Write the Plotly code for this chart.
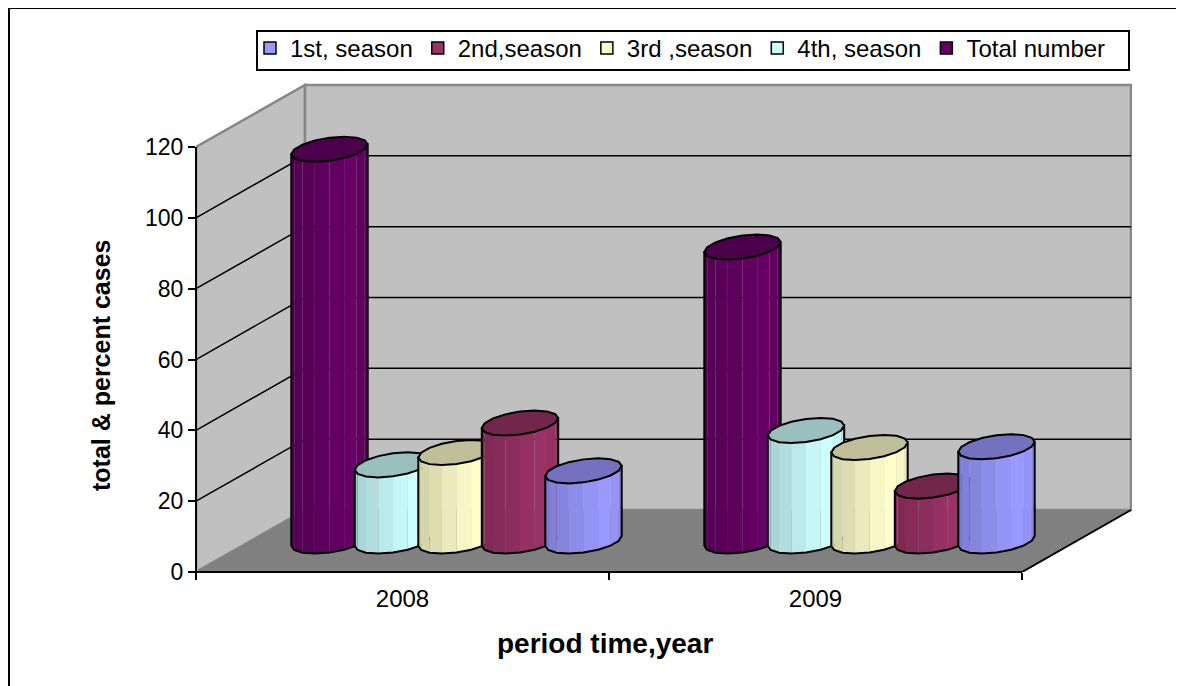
import math
import plotly.graph_objects as go

years = ["2008", "2009"]
series_names = ["1st, season", "2nd,season", "3rd ,season", "4th, season", "Total number"]
first_season = [19.8, 26.6]
second_season = [33.3, 15.5]
third_season = [25.0, 26.4]
fourth_season = [21.5, 31.2]
total_number = [110.6, 83.0]
colors = ["#9999FF", "#993366", "#FFFFCC", "#CCFFFF", "#660066"]
y_ticks = [0, 20, 40, 60, 80, 100, 120]

values = [first_season, second_season, third_season, fourth_season, total_number]

FIG_W, FIG_H, PAGE = 1176, 678, 8   # the page has an 8px body margin
PX_X = 413.0        # pixels per category
PX_Y = 425 / 120.0  # pixels per unit
DX = 109 / PX_X     # depth vector, axis units
DY = 62 / PX_Y
X0, X1 = -0.5, 1.5
BASE = DY / 2
A, C, D = 38.2 / PX_X, 5 / PX_Y, 11.5 / PX_Y
OFFS = {4: -73 / PX_X, 3: -9.5 / PX_X, 2: 54 / PX_X, 1: 117.5 / PX_X, 0: 181 / PX_X}
SHADE = [0.80, 0.84, 0.87, 0.92, 0.97, 1.0, 0.97, 0.90]


def fx(px):
    return (px - PAGE) / FIG_W


def fy(py):
    return 1 - (py - PAGE) / FIG_H


def shade(hex_c, f):
    r, g, b = int(hex_c[1:3], 16), int(hex_c[3:5], 16), int(hex_c[5:7], 16)
    return "rgb(%d,%d,%d)" % (r * f, g * f, b * f)


fig = go.Figure()

# legend-carrying bars, real values on the axes
for s, name in enumerate(series_names):
    fig.add_trace(go.Bar(
        x=[i + OFFS[s] for i in range(2)], y=values[s], base=[BASE, BASE], width=0.09,
        name=name, marker=dict(color=colors[s], line=dict(color="black", width=1.5)),
        hoverinfo="y",
    ))


def poly(xs, ys, fill=None, line=None, width=1.5):
    fig.add_trace(go.Scatter(
        x=xs, y=ys, mode="lines", showlegend=False, hoverinfo="skip",
        fill="toself" if fill else None, fillcolor=fill,
        line=dict(color=line or "rgba(0,0,0,0)", width=width if line else 0),
    ))


# walls and floor
poly([X0, X0 + DX, X0 + DX, X0, X0], [0, DY, 120 + DY, 120, 0], "#C0C0C0", "#868686", 2.5)
poly([X0 + DX, X1 + DX, X1 + DX, X0 + DX, X0 + DX], [DY, DY, 120 + DY, 120 + DY, DY], "#C0C0C0", "#868686", 2.5)
poly([X0, X1, X1 + DX, X0 + DX, X0], [0, 0, DY, DY, 0], "#808080", None)
poly([X1, X1 + DX], [0, DY], None, "black", 2)

# gridlines (the top of the wall is its grey edge, so the 0 and 120 levels have none)
for t in y_ticks[1:-1]:
    poly([X0, X0 + DX, X1 + DX], [t, t + DY, t + DY], None, "black", 1.5)


def ell(cx, cy, deg):
    r = math.radians(deg)
    return cx + A * math.cos(r), cy + C * math.cos(r) + D * math.sin(r)


# cylinders, left to right so each overlaps the previous one
for cat in range(2):
    for s in [4, 3, 2, 1, 0]:
        cx = cat + OFFS[s]
        top = BASE + values[s][cat]
        col = colors[s]
        front = [180 + 22.5 * i for i in range(9)]
        for i in range(8):
            a, b = front[i], front[i + 1]
            p = [ell(cx, BASE, a), ell(cx, BASE, b), ell(cx, top, b), ell(cx, top, a), ell(cx, BASE, a)]
            poly([q[0] for q in p], [q[1] for q in p], shade(col, SHADE[i]))
        outline = [ell(cx, BASE, d) for d in front] + [ell(cx, top, 0), ell(cx, top, 180), ell(cx, BASE, 180)]
        poly([q[0] for q in outline], [q[1] for q in outline], None, "black", 2)
        cap = [ell(cx, top, 22.5 * i) for i in range(17)]
        poly([q[0] for q in cap], [q[1] for q in cap], shade(col, 0.75), "black", 2)

FONT = "Liberation Sans, Arial, sans-serif"
L, R, T, B = 196, 1132, 83, 572
BLACK = dict(color="black", width=2)


def pline(x0, y0, x1, y1):
    return dict(type="line", xref="paper", yref="paper", x0=fx(x0), y0=fy(y0), x1=fx(x1), y1=fy(y1), line=BLACK)


fig.update_layout(
    width=FIG_W, height=FIG_H, autosize=False,
    margin=dict(l=0, r=0, t=0, b=0, autoexpand=False),
    paper_bgcolor="white", plot_bgcolor="rgba(0,0,0,0)",
    font=dict(family=FONT, color="black", size=23),
    barmode="overlay", showlegend=True,
    xaxis=dict(
        domain=[fx(L), fx(R)], range=[X0, X0 + (R - L) / PX_X],
        tickvals=[0, 1], ticktext=years, ticks="", showgrid=False, zeroline=False,
        showline=False, tickfont=dict(size=24), ticklabelstandoff=10,
        minor=dict(tickvals=[-0.5, 0.5, 1.5], ticks="outside", ticklen=7, tickcolor="black", tickwidth=2, showgrid=False),
    ),
    yaxis=dict(
        domain=[fy(B), fy(T)], range=[0, (B - T) / PX_Y],
        tickvals=y_ticks, ticks="outside", ticklen=7, tickcolor="black", tickwidth=2,
        showgrid=False, zeroline=False, showline=False, tickfont=dict(size=23),
    ),
    legend=dict(
        orientation="h", x=fx(250), y=fy(26), xanchor="left", yanchor="top",
        bgcolor="rgba(0,0,0,0)", borderwidth=0, font=dict(size=24),
        itemclick=False, itemdoubleclick=False, traceorder="normal",
    ),
    annotations=[
        dict(text="<b>period time,year</b>", xref="paper", yref="paper", x=fx(605), y=fy(643),
             showarrow=False, font=dict(size=28), xanchor="center", yanchor="middle"),
        dict(text="<b>total &amp; percent cases</b>", xref="paper", yref="paper", x=fx(101), y=fy(365),
             showarrow=False, textangle=-90, font=dict(size=25), xanchor="center", yanchor="middle"),
    ],
    shapes=[
        pline(8, 8, 1182, 8), pline(9, 8, 9, 686), pline(1182, 8, 1182, 686),
        pline(195, 572, 1022, 572), pline(196, 147, 196, 572),
        dict(type="rect", xref="paper", yref="paper", x0=fx(257), x1=fx(1129), y0=fy(70), y1=fy(31),
             fillcolor="white", line=BLACK, layer="above"),
    ],
)

fig.write_html("out.html")
